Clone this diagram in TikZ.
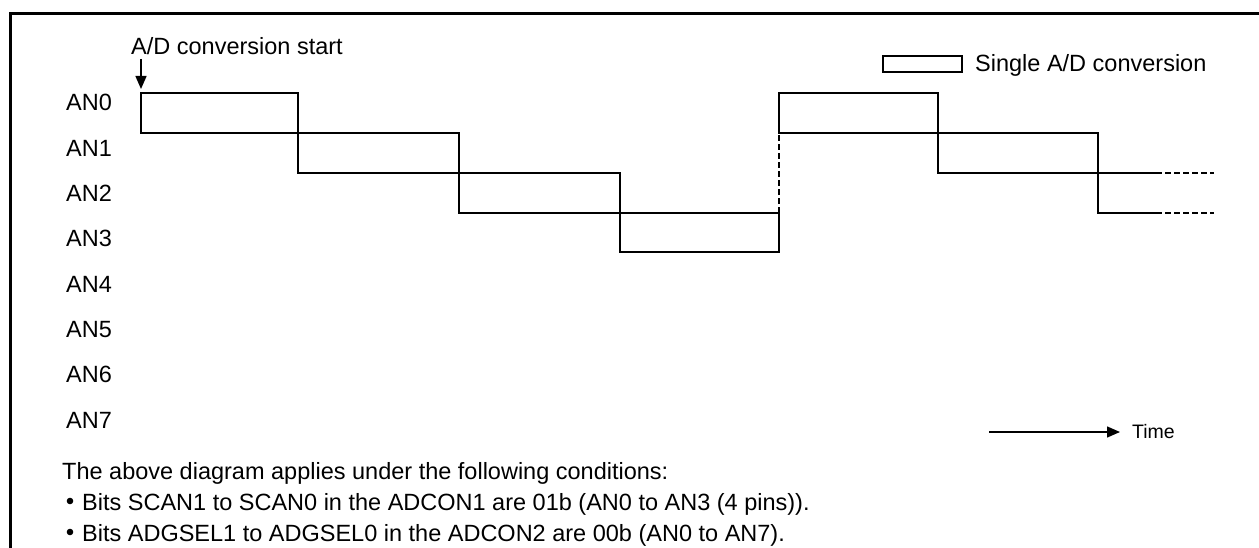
\documentclass[tikz,border=0pt]{standalone}
\usepackage{fontspec}
\setmainfont{Liberation Sans}
\usetikzlibrary{arrows.meta}
\begin{document}
\begin{tikzpicture}[x=1pt,y=-1pt,
  txt/.style={inner sep=0pt,anchor=base west,font=\fontsize{23.5}{28}\selectfont},
  smalltxt/.style={inner sep=0pt,anchor=base west,font=\fontsize{19.5}{23}\selectfont},
  wave/.style={line width=1.6pt},
  wavedash/.style={line width=2.2pt,dash pattern=on 6pt off 3pt},
  frame/.style={line width=3pt},
  tip/.style={-{Triangle[width=11pt,length=13pt]},line width=1.4pt}]
\useasboundingbox (0,0) rectangle (1259,548);
% frame
\draw[frame] (1259,14) -- (10,14) -- (10,548);
% start label and arrow
\node[txt] (start) at (131,55) {A/D conversion start};
\coordinate (startA) at (141,59);
\coordinate (startB) at (141,89);
\draw[tip] (startA) -- (startB);
% channel labels
\foreach \i/\yy in {0/110.9,1/156.2,2/201.5,3/246.8,4/292.1,5/337.4,6/382.7,7/428}
  \node[txt] (an\i) at (66,\yy) {AN\i};
% waveform
\def\rA{93}\def\rB{133}\def\rC{173}\def\rD{213}\def\rE{252}
\draw[wave] (141,\rA) rectangle (298,\rB);
\draw[wave] (298,\rB) rectangle (459,\rC);
\draw[wave] (459,\rC) rectangle (620,\rD);
\draw[wave] (620,\rD) rectangle (779,\rE);
\draw[wave] (779,\rA) rectangle (938,\rB);
\draw[wave] (938,\rB) rectangle (1098,\rC);
\draw[wave] (1098,\rC) -- (1156,\rC);
\draw[wave] (1098,\rC) -- (1098,\rD) -- (1156,\rD);
\draw[wavedash] (1156,\rC) -- (1214,\rC);
\draw[wavedash] (1156,\rD) -- (1214,\rD);
\draw[wavedash] (779,\rD) -- (779,\rB);
% legend
\node[draw,line width=1.2pt,minimum width=79pt,minimum height=16pt,inner sep=0pt] (legbox) at (922.5,64) {};
\node[txt] (legtxt) at (975,72) {Single A/D conversion};
% time arrow
\coordinate (timeA) at (989,432);
\node[smalltxt,anchor=west] (time) at (1132,432) {Time};
\draw[tip] (timeA) -- (1120,432);
% conditions
\node[txt] (cond) at (62,479.5) {The above diagram applies under the following conditions:};
\fill (70,501) circle (3.3pt);
\node[txt] (c1) at (82,510.5) {Bits SCAN1 to SCAN0 in the ADCON1 are 01b (AN0 to AN3 (4 pins)).};
\fill (70,532) circle (3.3pt);
\node[txt] (c2) at (82,541.5) {Bits ADGSEL1 to ADGSEL0 in the ADCON2 are 00b (AN0 to AN7).};
\end{tikzpicture}
\end{document}
